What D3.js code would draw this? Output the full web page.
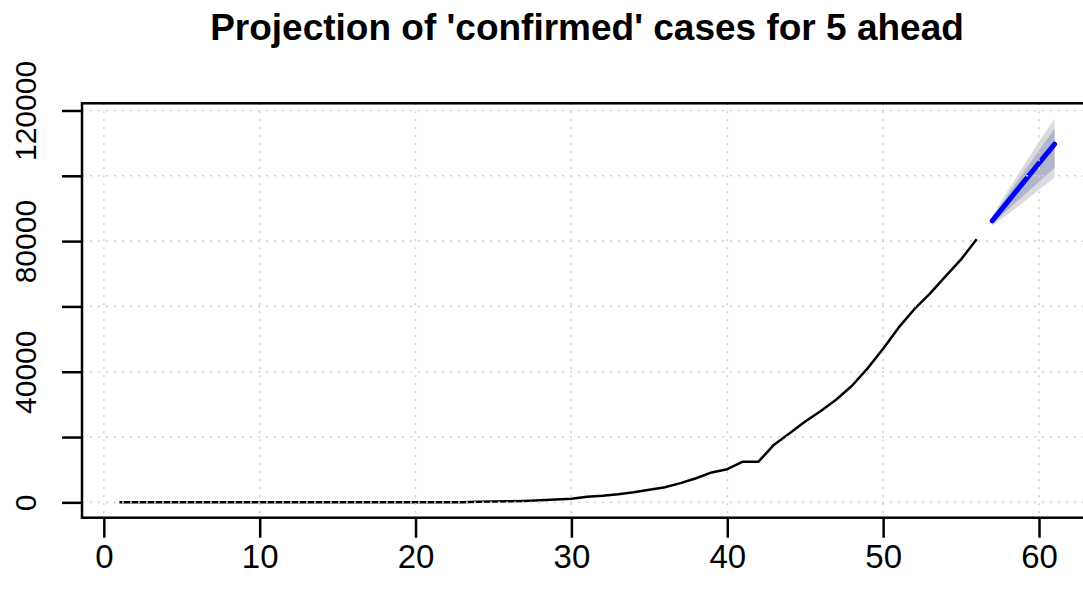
<!DOCTYPE html>
<html>
<head>
<meta charset="utf-8">
<script src="https://cdn.jsdelivr.net/npm/d3@7"></script>
<style>
  body { margin: 0; background: #fff; }
  svg { display: block; }
  text { font-family: "Liberation Sans", Arial, Helvetica, sans-serif; fill: #000; }
</style>
</head>
<body>
<div id="chart"></div>
<script>
// Observed cumulative 'confirmed' cases, day 1..56
const observed = [
  2, 2, 2, 2, 2, 2, 2, 3, 3, 3,
  3, 3, 3, 3, 3, 3, 3, 3, 3, 3,
  3, 20, 62, 155, 229, 322, 453, 655, 888, 1128,
  1694, 2036, 2502, 3089, 3858, 4636, 5883, 7375, 9172, 10149,
  12462, 12462, 17660, 21157, 24747, 27980, 31506, 35713, 41035, 47021,
  53578, 59138, 63927, 69176, 74386, 80589
];
// Forecast, days 57..61
const fcDays  = [57, 58, 59, 60, 61];
const fcMean  = [86200, 92100, 98000, 103900, 109700];
const lo80    = [85300, 89600, 93900, 98200, 102500];
const hi80    = [87100, 94200, 101000, 107800, 114400];
const lo95    = [84700, 88200, 91900, 95700, 99500];
const hi95    = [87700, 95500, 103000, 110400, 117500];

const xTicks = [0, 10, 20, 30, 40, 50, 60];
const yTicks = [0, 20000, 40000, 60000, 80000, 100000, 120000];
const yLabelled = [0, 40000, 80000, 120000];

const W = 1083, H = 592;
const box = { left: 82, right: 1092, top: 103.3, bottom: 517.7 };

const svg = d3.select("#chart").append("svg")
    .attr("width", W)
    .attr("height", H);

// R style: extend the data range by 4% on each side
const xMin = 1, xMax = 61;
const xPad = (xMax - xMin) * 0.04;
const x = d3.scaleLinear()
    .domain([xMin - xPad, xMax + xPad])
    .range([box.left, box.right]);

const yMin = d3.min(observed), yMax = d3.max(hi95);
const yPad = (yMax - yMin) * 0.04;
const y = d3.scaleLinear()
    .domain([yMin - yPad, yMax + yPad])
    .range([box.bottom, box.top]);

const obsData = observed.map((v, i) => ({ day: i + 1, v }));
const fcData = fcDays.map((d, i) => ({
    day: d, mean: fcMean[i], lo80: lo80[i], hi80: hi80[i], lo95: lo95[i], hi95: hi95[i]
}));

// Prediction intervals
svg.append("path")
    .datum(fcData)
    .attr("fill", "#dbdbdf")
    .attr("d", d3.area().x(d => x(d.day)).y0(d => y(d.lo95)).y1(d => y(d.hi95)));

svg.append("path")
    .datum(fcData)
    .attr("fill", "#b1b5ce")
    .attr("d", d3.area().x(d => x(d.day)).y0(d => y(d.lo80)).y1(d => y(d.hi80)));

// Observed series
svg.append("path")
    .datum(obsData)
    .attr("fill", "none")
    .attr("stroke", "#000")
    .attr("stroke-width", 2.5)
    .attr("stroke-linejoin", "round")
    .attr("d", d3.line().x(d => x(d.day)).y(d => y(d.v)));

// Point forecast
svg.append("path")
    .datum(fcData)
    .attr("fill", "none")
    .attr("stroke", "#0000ff")
    .attr("stroke-width", 5)
    .attr("stroke-linecap", "round")
    .attr("d", d3.line().x(d => x(d.day)).y(d => y(d.mean)));

// Dotted grid drawn over the data, like grid() after plot
const grid = svg.append("g")
    .attr("stroke", "#d3d3d3")
    .attr("stroke-width", 1.6)
    .attr("stroke-dasharray", "2,6");

grid.selectAll(".vgrid")
    .data(xTicks)
    .enter().append("line")
    .attr("x1", d => x(d)).attr("x2", d => x(d))
    .attr("y1", box.top).attr("y2", box.bottom);

grid.selectAll(".hgrid")
    .data(yTicks)
    .enter().append("line")
    .attr("x1", box.left).attr("x2", box.right)
    .attr("y1", d => y(d)).attr("y2", d => y(d));

// Box
svg.append("rect")
    .attr("x", box.left)
    .attr("y", box.top)
    .attr("width", box.right - box.left)
    .attr("height", box.bottom - box.top)
    .attr("fill", "none")
    .attr("stroke", "#000")
    .attr("stroke-width", 2.5);

// X axis
const xAxis = svg.append("g")
    .attr("transform", `translate(0,${box.bottom})`)
    .call(d3.axisBottom(x).tickValues(xTicks).tickSize(20).tickSizeOuter(0).tickPadding(7));
xAxis.select(".domain").remove();
xAxis.selectAll("line").attr("stroke", "#000").attr("stroke-width", 2.5);
xAxis.selectAll("text")
    .attr("fill", "#000")
    .style("font-size", "33px");

// Y axis
const yAxis = svg.append("g")
    .attr("transform", `translate(${box.left},0)`)
    .call(d3.axisLeft(y).tickValues(yTicks).tickSize(20).tickSizeOuter(0)
        .tickFormat(d => yLabelled.includes(d) ? d3.format("d")(d) : ""));
yAxis.select(".domain").remove();
yAxis.selectAll("line").attr("stroke", "#000").attr("stroke-width", 2.5);
yAxis.selectAll("text")
    .attr("x", 0)
    .attr("dy", 0)
    .attr("text-anchor", "middle")
    .attr("transform", `translate(${36 - box.left},0) rotate(-90)`)
    .attr("fill", "#000")
    .style("font-size", "30px");

// Title
svg.append("text")
    .attr("x", (box.left + box.right) / 2)
    .attr("y", 40)
    .attr("text-anchor", "middle")
    .style("font-size", "37px")
    .style("font-weight", "bold")
    .text("Projection of 'confirmed' cases for 5 ahead");
</script>
</body>
</html>
